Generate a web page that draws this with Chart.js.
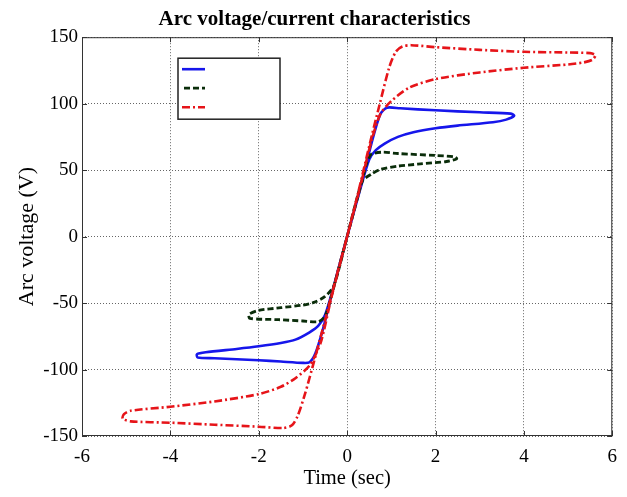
<!DOCTYPE html>
<html>
<head>
<meta charset="utf-8">
<script src="https://cdn.jsdelivr.net/npm/chart.js@4/dist/chart.umd.min.js"></script>
<style>
  html, body { margin: 0; padding: 0; background: #fff; }
  #wrap { width: 627px; height: 497px; }
</style>
</head>
<body>
<div id="wrap"><canvas id="c"></canvas></div>
<script>
// axis ticks
const xTicks = [-6, -4, -2, 0, 2, 4, 6];
const yTicks = [-150, -100, -50, 0, 50, 100, 150];

// blue loop (solid)
const blueX = [0, 0.3, 0.55, 0.75, 0.9, 1.2, 2.0, 3.0, 3.7, 3.78, 3.6, 3.3, 2.5, 2.0, 1.5, 1.15, 0.85, 0.65, 0.5, 0.3, 0,
  -0.3, -0.55, -0.72, -0.85, -1.0, -1.5, -2.0, -3.0, -3.38, -3.4, -3.2, -2.5, -2.0, -1.5, -1.17, -0.85, -0.65, -0.5, -0.3, 0];
const blueY = [0, 37, 70, 92, 97, 96.5, 95, 93.5, 92.5, 91, 88, 86, 83.5, 81.5, 78.5, 75, 70, 65, 58, 36, 0,
  -37, -70, -88, -94.5, -95, -94, -93, -91.5, -91, -88.5, -87, -84.5, -82.5, -80, -77.5, -72, -67, -59, -37, 0];

// green loop (dashed)
const greenX = [0, 0.25, 0.45, 0.55, 0.8, 1.15, 2.0, 2.43, 2.48, 2.25, 1.6, 1.15, 0.75, 0.55, 0.35, 0.2, 0,
  -0.2, -0.4, -0.5, -0.65, -1.0, -1.55, -2.2, -2.22, -2.0, -1.5, -1.0, -0.75, -0.5, -0.3, 0];
const greenY = [0, 31, 56, 62, 63.5, 62.5, 61, 60, 58.5, 56.5, 54.5, 53, 50.5, 47, 42, 26, 0,
  -25, -50, -60, -64, -63.5, -62.5, -61.5, -58.5, -55.5, -53.5, -51.5, -49.5, -45, -37, 0];

// red loop (dash-dot)
const redX = [0, 0.25, 0.5, 0.74, 0.95, 1.1, 1.25, 1.45, 2.0, 3.0, 4.0, 5.0, 5.5, 5.62, 5.55, 5.35, 5.0, 4.0, 3.0, 2.0, 1.4, 1.0, 0.75, 0.55, 0.3, 0,
  -0.25, -0.5, -0.75, -0.95, -1.12, -1.25, -1.45, -2.0, -3.0, -4.0, -4.9, -5.08, -5.05, -4.9, -4.0, -3.0, -2.0, -1.5, -1.17, -0.85, -0.6, -0.35, 0];
const redY = [0, 33, 68, 100, 127, 139, 143, 144, 142.5, 140.5, 139, 138.5, 138, 136.5, 133, 131, 129.5, 127, 123.5, 118.5, 112, 102, 92, 72, 38, 0,
  -31, -63, -94, -118, -135, -142, -144, -143, -141.5, -140, -139, -137, -133.5, -131, -128, -124, -118.5, -113, -106.5, -97, -80, -45, 0];

function pts(xs, ys) {
  return xs.map((x, i) => ({ x: x, y: ys[i] }));
}

const serif = 'Liberation Serif, Times New Roman, serif';

// box, inward ticks and the (label-less) legend, MATLAB style
const framePlugin = {
  id: 'frame',
  afterDraw(chart) {
    const ctx = chart.ctx;
    const a = chart.chartArea;
    const xs = chart.scales.x, ys = chart.scales.y;
    ctx.save();
    ctx.strokeStyle = '#333';
    ctx.lineWidth = 1;
    ctx.setLineDash([]);
    ctx.strokeRect(a.left + 0.5, a.top + 0.5, a.right - a.left - 1, a.bottom - a.top - 1);
    ctx.beginPath();
    xTicks.forEach(t => {
      const p = Math.round(xs.getPixelForValue(t)) + 0.5;
      ctx.moveTo(p, a.bottom); ctx.lineTo(p, a.bottom - 5);
      ctx.moveTo(p, a.top); ctx.lineTo(p, a.top + 5);
    });
    yTicks.forEach(t => {
      const p = Math.round(ys.getPixelForValue(t)) + 0.5;
      ctx.moveTo(a.left, p); ctx.lineTo(a.left + 5, p);
      ctx.moveTo(a.right, p); ctx.lineTo(a.right - 5, p);
    });
    ctx.stroke();

    // legend box
    const bx = a.left + 96, by = a.top + 21;
    ctx.fillStyle = '#fff';
    ctx.fillRect(bx, by, 102, 61);
    ctx.strokeStyle = '#222';
    ctx.lineWidth = 1.5;
    ctx.strokeRect(bx, by, 102, 61);
    chart.data.datasets.forEach((ds, i) => {
      const yy = by + 11 + i * 19;
      ctx.beginPath();
      ctx.strokeStyle = ds.borderColor;
      ctx.lineWidth = ds.borderWidth;
      ctx.setLineDash(ds.borderDash || []);
      ctx.moveTo(bx + 4 + (i === 1 ? 2 : 0), yy);
      ctx.lineTo(bx + 27, yy);
      ctx.stroke();
    });
    ctx.restore();
  }
};

new Chart(document.getElementById('c'), {
  type: 'scatter',
  data: {
    datasets: [{
      label: 'blue',
      data: pts(blueX, blueY),
      borderColor: 'rgb(22,22,235)',
      borderWidth: 2.6,
      order: 3
    }, {
      label: 'green',
      data: pts(greenX, greenY),
      borderColor: 'rgb(10,45,10)',
      borderWidth: 2.8,
      borderDash: [6, 3],
      order: 2
    }, {
      label: 'red',
      data: pts(redX, redY),
      borderColor: 'rgb(230,20,25)',
      borderWidth: 2.6,
      borderDash: [8, 3, 2, 3],
      order: 1
    }]
  },
  options: {
    responsive: true,
    maintainAspectRatio: false,
    animation: false,
    showLine: true,
    elements: {
      point: { radius: 0, hoverRadius: 0 },
      line: { tension: 0.25, fill: false }
    },
    layout: { padding: { left: 12, right: 10, top: 0, bottom: 0 } },
    plugins: {
      legend: { display: false },
      tooltip: { enabled: false },
      title: {
        display: true,
        text: 'Arc voltage/current characteristics',
        color: '#000',
        font: { family: serif, size: 21, weight: 'bold' },
        padding: { top: 7, bottom: 5 }
      }
    },
    scales: {
      x: {
        type: 'linear',
        min: -6, max: 6,
        afterBuildTicks: s => { s.ticks = xTicks.map(v => ({ value: v })); },
        afterFit: s => { s.height = 61; },
        ticks: { color: '#000', font: { family: serif, size: 19 }, padding: 10 },
        grid: { color: 'rgba(0,0,0,0.6)', drawTicks: false },
        border: { display: false, dash: [1, 2] },
        title: {
          display: true, text: 'Time (sec)', color: '#000',
          font: { family: serif, size: 20.5 }, padding: { top: 2, bottom: 6 }
        }
      },
      y: {
        type: 'linear',
        min: -150, max: 150,
        afterBuildTicks: s => { s.ticks = yTicks.map(v => ({ value: v })); },
        afterFit: s => { s.width = 70; },
        ticks: { color: '#000', font: { family: serif, size: 19 }, padding: 4 },
        grid: { color: 'rgba(0,0,0,0.6)', drawTicks: false },
        border: { display: false, dash: [1, 2] },
        title: {
          display: true, text: 'Arc voltage (V)', color: '#000',
          font: { family: serif, size: 22 }, padding: { top: 2, bottom: 3 }
        }
      }
    }
  },
  plugins: [framePlugin]
});
</script>
</body>
</html>
